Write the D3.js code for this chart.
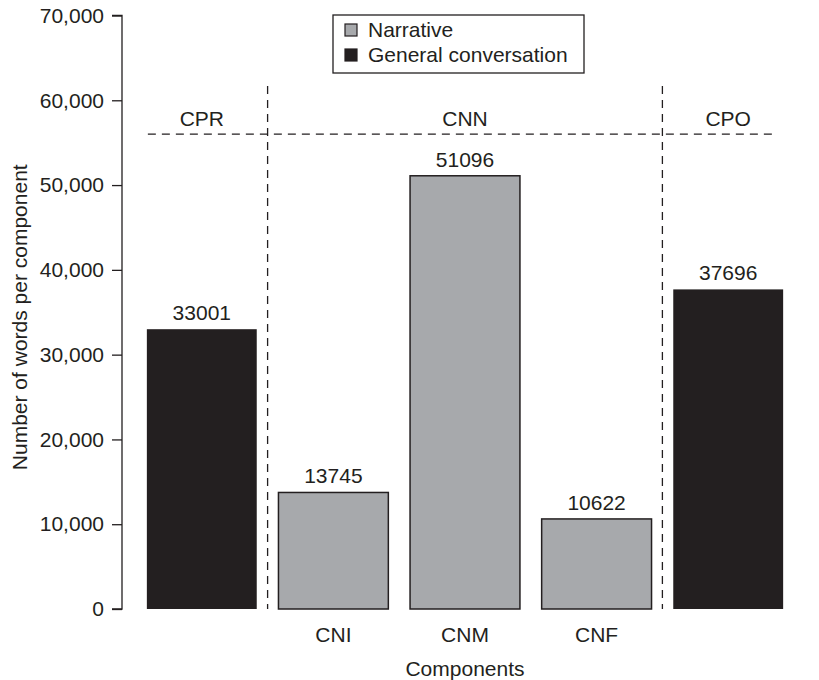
<!DOCTYPE html>
<html lang="en">
<head>
<meta charset="UTF-8">
<title>Words per component</title>
<script src="https://d3js.org/d3.v7.min.js"></script>
<style>
  body { margin: 0; background: #fff; }
  text { font-family: "Liberation Sans", Arial, Helvetica, sans-serif; fill: #231f20; }
</style>
</head>
<body>
<svg id="chart" width="819" height="680"></svg>
<script>
// data
const components = ['CPR', 'CNI', 'CNM', 'CNF', 'CPO'];
const words = [33001, 13745, 51096, 10622, 37696];
const kinds = ['general', 'narrative', 'narrative', 'narrative', 'general'];
const groups = ['CPR', 'CNN', 'CPO'];
const groupSpans = [['CPR', 'CPR'], ['CNI', 'CNF'], ['CPO', 'CPO']];
const yTicks = [0, 10000, 20000, 30000, 40000, 50000, 60000, 70000];
const legendLabels = ['Narrative', 'General conversation'];
const legendKinds = ['narrative', 'general'];
const dividerLevel = 56000;

const colors = { narrative: '#a7a9ac', general: '#231f20' };
const ink = '#231f20';
const fontSize = '21px';

const svg = d3.select('#chart');

const x = d3.scaleBand().domain(components).range([136, 794])
    .paddingInner(0.165).paddingOuter(0.0825);
const y = d3.scaleLinear().domain([0, 70000]).range([609, 15.5]);

// y axis
const yAxis = d3.axisLeft(y).tickValues(yTicks).tickSize(10).tickPadding(8)
    .tickFormat(d3.format(','));
const yG = svg.append('g')
    .attr('transform', 'translate(122,0)')
    .call(yAxis);
yG.select('.domain').attr('d', `M-10,${y(70000)}H0V${y(0)}H-10`).attr('stroke', ink).attr('stroke-width', 1.3);
yG.selectAll('.tick line').attr('stroke', ink).attr('stroke-width', 1.3);
yG.selectAll('.tick text').style('font-size', fontSize).attr('fill', ink)
    .style('font-family', '"Liberation Sans", Arial, sans-serif');

// y title
svg.append('text')
    .attr('transform', `translate(27,${(y(0) + y(70000)) / 2 + 5}) rotate(-90)`)
    .attr('text-anchor', 'middle')
    .style('font-size', fontSize)
    .text('Number of words per component');

// dividers between component groups
const dividerX = [
    (x('CPR') + x.bandwidth() + x('CNI')) / 2,
    (x('CNF') + x.bandwidth() + x('CPO')) / 2
];
svg.selectAll('line.divider')
    .data(dividerX)
    .enter()
    .append('line')
    .attr('class', 'divider')
    .attr('x1', d => d).attr('x2', d => d)
    .attr('y1', 86).attr('y2', y(0))
    .attr('stroke', ink).attr('stroke-width', 1.3)
    .attr('stroke-dasharray', '8,6');

svg.append('line')
    .attr('x1', x('CPR') + 1).attr('x2', 774)
    .attr('y1', y(dividerLevel)).attr('y2', y(dividerLevel))
    .attr('stroke', ink).attr('stroke-width', 1.3)
    .attr('stroke-dasharray', '8,6');

// group labels
svg.selectAll('text.group')
    .data(groups)
    .enter()
    .append('text')
    .attr('class', 'group')
    .attr('x', (d, i) => (x(groupSpans[i][0]) + x(groupSpans[i][1]) + x.bandwidth()) / 2)
    .attr('y', y(dividerLevel) - 8)
    .attr('text-anchor', 'middle')
    .style('font-size', fontSize)
    .text(d => d);

// bars
svg.selectAll('rect.bar')
    .data(components)
    .enter()
    .append('rect')
    .attr('class', 'bar')
    .attr('x', d => x(d))
    .attr('width', x.bandwidth())
    .attr('y', (d, i) => y(words[i]))
    .attr('height', (d, i) => y(0) - y(words[i]))
    .attr('fill', (d, i) => colors[kinds[i]])
    .attr('stroke', ink)
    .attr('stroke-width', (d, i) => kinds[i] === 'narrative' ? 1.5 : 0);

// value labels
svg.selectAll('text.value')
    .data(components)
    .enter()
    .append('text')
    .attr('class', 'value')
    .attr('x', d => x(d) + x.bandwidth() / 2)
    .attr('y', (d, i) => y(words[i]) - 9)
    .attr('text-anchor', 'middle')
    .style('font-size', fontSize)
    .text((d, i) => words[i]);

// category labels (only narrative sub-components)
svg.selectAll('text.cat')
    .data(components.filter((d, i) => kinds[i] === 'narrative'))
    .enter()
    .append('text')
    .attr('class', 'cat')
    .attr('x', d => x(d) + x.bandwidth() / 2)
    .attr('y', 642)
    .attr('text-anchor', 'middle')
    .style('font-size', fontSize)
    .text(d => d);

svg.append('text')
    .attr('x', x('CNM') + x.bandwidth() / 2)
    .attr('y', 676)
    .attr('text-anchor', 'middle')
    .style('font-size', fontSize)
    .text('Components');

// legend
const legend = svg.append('g').attr('transform', 'translate(333,15)');
legend.append('rect')
    .attr('width', 251).attr('height', 58)
    .attr('fill', '#fff').attr('stroke', ink).attr('stroke-width', 1.3);
const items = legend.selectAll('g.item')
    .data(legendLabels)
    .enter()
    .append('g')
    .attr('class', 'item')
    .attr('transform', (d, i) => `translate(12,${8 + i * 25})`);
items.append('rect')
    .attr('width', 12).attr('height', 12).attr('y', 1)
    .attr('fill', (d, i) => colors[legendKinds[i]])
    .attr('stroke', ink).attr('stroke-width', 1.2);
items.append('text')
    .attr('x', 23).attr('y', 14)
    .style('font-size', fontSize)
    .text(d => d);
</script>
</body>
</html>
